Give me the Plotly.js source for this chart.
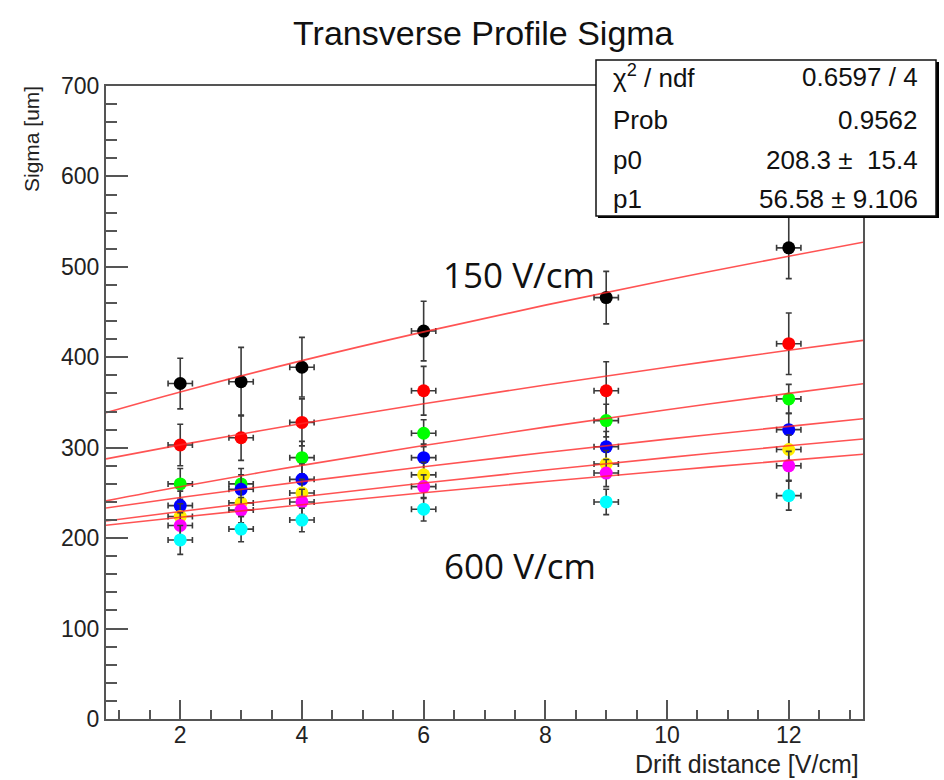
<!DOCTYPE html>
<html>
<head>
<meta charset="utf-8">
<script src="https://cdn.plot.ly/plotly-3.0.1.min.js"></script>
<style>html,body{margin:0;padding:0;background:#fff;}#chart{width:944px;height:780px;}</style>
</head>
<body>
<div id="chart"></div>
<script>
// Drift distances
const driftX = [2, 3, 4, 6, 9, 12];
// Measured sigma values per series (150 V/cm at top ... 600 V/cm at bottom)
const sigBlack   = [371, 373, 389, 429, 466, 521];
const sigRed     = [303, 311, 328, 363, 363, 415];
const sigGreen   = [260, 260, 289, 316, 330, 354];
const sigBlue    = [236, 254, 265, 289, 301, 320];
const sigYellow  = [224, 239, 250, 270, 282, 298];
const sigMagenta = [214, 231, 240, 257, 272, 280];
const sigCyan    = [198, 210, 220, 232, 240, 247];
// y errors
const errBlack   = [28, 38, 33, 33, 29, 34];
const errRed     = [23, 25, 26, 27, 32, 34];
const errGreen   = [17, 17, 18, 15, 18, 16];
const errBlue    = [16, 16, 17, 15, 17, 18];
const errYellow  = [14, 15, 15, 14, 15, 16];
const errMagenta = [14, 14, 14, 13, 15, 16];
const errCyan    = [16, 14, 13, 13, 14, 16];
const xErr = 0.2;
// Fit curves
const fitX       = [0.78, 2, 4, 6, 8, 10, 12, 13.22];
const fitBlack   = [338.8, 361.7, 396.3, 428.1, 457.7, 485.5, 511.8, 527.2];
const fitRed     = [287.7, 303.1, 326.7, 348.7, 369.4, 389.0, 407.7, 418.7];
const fitGreen   = [241.2, 256.8, 280.5, 302.4, 322.8, 342.0, 360.1, 370.7];
const fitBlue    = [233.4, 244.9, 262.5, 279.0, 294.7, 309.5, 323.6, 332.0];
const fitYellow  = [219.0, 229.5, 245.7, 260.9, 275.3, 289.0, 302.1, 309.7];
const fitMagenta = [214.2, 223.1, 237.0, 250.2, 262.7, 274.6, 286.0, 292.8];
// Stats box
const statLabels = ["χ<sup>2</sup> / ndf", "Prob", "p0", "p1"];
const statValues = ["0.6597 / 4", "0.9562", "208.3 ±  15.4", "56.58 ± 9.106"];
const fieldLabels = ["150 V/cm", "600 V/cm"];

const series = [
  {y: sigBlack, e: errBlack, c: '#000000'},
  {y: sigRed, e: errRed, c: '#ff0000'},
  {y: sigGreen, e: errGreen, c: '#00ff00'},
  {y: sigBlue, e: errBlue, c: '#0000ff'},
  {y: sigYellow, e: errYellow, c: '#ffee00'},
  {y: sigMagenta, e: errMagenta, c: '#ff00ff'},
  {y: sigCyan, e: errCyan, c: '#00ffff'}
];
const fits = [fitBlack, fitRed, fitGreen, fitBlue, fitYellow, fitMagenta];

const traces = [];
series.forEach(s => {
  traces.push({
    type: 'scatter', mode: 'markers', x: driftX, y: s.y,
    marker: {color: s.c, size: 13, line: {width: 0}},
    error_y: {type: 'data', array: s.e, color: '#3a3a3a', thickness: 1.6, width: 3},
    error_x: {type: 'constant', value: xErr, color: '#3a3a3a', thickness: 1.6, width: 3},
    showlegend: false, hoverinfo: 'x+y'
  });
});
fits.forEach(f => {
  traces.push({
    type: 'scatter', mode: 'lines', x: fitX, y: f,
    line: {color: 'rgba(255,40,40,0.8)', width: 1.6, shape: 'spline'},
    showlegend: false, hoverinfo: 'skip'
  });
});

const L = 106, R = 863, T = 86, B = 719;
const px2x = p => (p - L) / (R - L);
const py2y = p => (B - p) / (B - T);

const font = 'Liberation Sans, Arial, Helvetica, sans-serif';
const annotations = [];
const rowY = [77, 120, 160, 199];
statLabels.forEach((t, i) => {
  annotations.push({xref: 'paper', yref: 'paper', x: px2x(611), y: py2y(rowY[i]),
    xanchor: 'left', yanchor: 'middle', text: t, showarrow: false,
    font: {family: font, size: 26, color: '#111'}});
  annotations.push({xref: 'paper', yref: 'paper', x: px2x(920), y: py2y(rowY[i]),
    xanchor: 'right', yanchor: 'middle', text: statValues[i], showarrow: false,
    font: {family: font, size: 26, color: '#111'}});
});
annotations.push({xref: 'paper', yref: 'paper', x: px2x(519), y: py2y(274),
  xanchor: 'center', yanchor: 'middle', text: fieldLabels[0], showarrow: false,
  font: {family: 'Open Sans, sans-serif', size: 35, color: '#111'}});
annotations.push({xref: 'paper', yref: 'paper', x: px2x(520), y: py2y(565),
  xanchor: 'center', yanchor: 'middle', text: fieldLabels[1], showarrow: false,
  font: {family: 'Open Sans, sans-serif', size: 35, color: '#111'}});
annotations.push({xref: 'paper', yref: 'paper', x: px2x(31), y: py2y(139),
  xanchor: 'center', yanchor: 'middle', text: 'Sigma [um]', textangle: -90, showarrow: false,
  font: {family: font, size: 21, color: '#222'}});
annotations.push({xref: 'paper', yref: 'paper', x: px2x(861), y: py2y(764),
  xanchor: 'right', yanchor: 'middle', text: 'Drift distance [V/cm]', showarrow: false,
  font: {family: font, size: 25, color: '#222'}});

const shapes = [
  {type: 'rect', xref: 'paper', yref: 'paper', x0: px2x(598), x1: px2x(939), y0: py2y(218), y1: py2y(62),
   fillcolor: '#000', line: {width: 0}, layer: 'above'},
  {type: 'rect', xref: 'paper', yref: 'paper', x0: px2x(596), x1: px2x(936), y0: py2y(216), y1: py2y(60),
   fillcolor: '#fff', line: {color: '#111', width: 1.5}, layer: 'above'}
];

const layout = {
  width: 944, height: 780,
  margin: {l: L, r: 944 - R, t: T, b: 780 - B, pad: 0},
  paper_bgcolor: '#fff', plot_bgcolor: '#fff',
  title: {text: 'Transverse Profile Sigma', x: 0.512, xanchor: 'center', y: 0.958, yanchor: 'middle',
    font: {family: font, size: 34, color: '#111'}},
  xaxis: {range: [0.78, 13.22], showgrid: false, zeroline: false, showline: true, mirror: true,
    linecolor: '#555', linewidth: 2, ticks: 'inside', ticklen: 19, tickwidth: 2, tickcolor: '#555',
    tick0: 0, dtick: 2, tickfont: {family: font, size: 23, color: '#222'}, ticklabelstandoff: -6,
    minor: {dtick: 0.5, ticks: 'inside', ticklen: 9, tickwidth: 2, tickcolor: '#555', showgrid: false}},
  yaxis: {range: [0, 700], showgrid: false, zeroline: false, showline: true, mirror: true,
    linecolor: '#555', linewidth: 2, ticks: 'inside', ticklen: 22, tickwidth: 2, tickcolor: '#555',
    tick0: 0, dtick: 100, tickfont: {family: font, size: 23, color: '#222'},
    minor: {dtick: 20, ticks: 'inside', ticklen: 11, tickwidth: 2, tickcolor: '#555', showgrid: false}},
  annotations: annotations,
  shapes: shapes,
  showlegend: false
};

Plotly.newPlot('chart', traces, layout, {displayModeBar: false, staticPlot: true});
</script>
</body>
</html>
